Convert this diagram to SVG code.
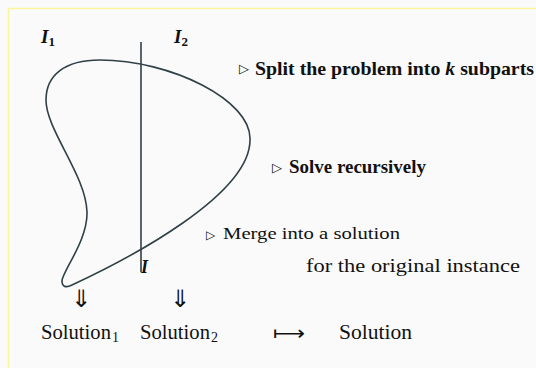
<svg xmlns="http://www.w3.org/2000/svg" width="536" height="368" viewBox="0 0 536 368">
<style>
.t{font-family:'Liberation Serif','Times New Roman',serif;fill:#111}
.b{font-weight:bold}
.bi{font-weight:bold;font-style:italic}
.sym{font-family:'DejaVu Sans',sans-serif;fill:#111}
.ln{fill:none;stroke:#2f4046;stroke-width:1.6}
</style>
<rect x="0" y="0" width="536" height="368" fill="#fafafa"/>
<path d="M8.5,368 V8.5 H536" fill="none" stroke="#fbf69c" stroke-width="1.5"/>
<g id="instance">
<path class="ln" d="M72,285 C130,258 250,195 250,140 C252,100 170,60 100,60 C65,60 46,75 46,100 C46,130 86,175 87,212 C88,240 62,272 62,281 C62,287 66,288 72,285 Z"/>
<line class="ln" x1="141" y1="42" x2="141" y2="272"/>
<text class="t bi" x="41" y="43" font-size="19">I<tspan font-size="13" dy="3" font-style="normal">1</tspan></text>
<text class="t bi" x="174" y="43" font-size="19">I<tspan font-size="13" dy="3" font-style="normal">2</tspan></text>
<text class="t bi" x="141" y="273" font-size="18">I</text>
</g>
<g id="split">
<text class="sym" x="239" y="73" font-size="13">▷</text>
<text class="t b" x="255" y="75" font-size="19" textLength="279" lengthAdjust="spacingAndGlyphs">Split the problem into <tspan font-style="italic">k</tspan> subparts</text>
</g>
<g id="solve">
<text class="sym" x="272" y="172" font-size="13">▷</text>
<text class="t b" x="289" y="173" font-size="19" textLength="137" lengthAdjust="spacingAndGlyphs">Solve recursively</text>
</g>
<g id="merge">
<text class="sym" x="206" y="239" font-size="12">▷</text>
<text class="t" x="223" y="239" font-size="17" textLength="177" lengthAdjust="spacingAndGlyphs">Merge into a solution</text>
<text class="t" x="306" y="272" font-size="19" textLength="214" lengthAdjust="spacingAndGlyphs">for the original instance</text>
</g>
<g id="connectors">
<text class="sym" x="81" y="307" font-size="24" text-anchor="middle">⇓</text>
<text class="sym" x="180" y="307" font-size="24" text-anchor="middle">⇓</text>
<text class="sym" x="273" y="340" font-size="20" textLength="32" lengthAdjust="spacingAndGlyphs">⟼</text>
</g>
<g id="solution1">
<text class="t" x="41" y="339" font-size="20" textLength="70" lengthAdjust="spacingAndGlyphs">Solution</text>
<text class="t" x="112" y="342" font-size="14">1</text>
</g>
<g id="solution2">
<text class="t" x="140" y="339" font-size="20" textLength="70" lengthAdjust="spacingAndGlyphs">Solution</text>
<text class="t" x="211" y="342" font-size="14">2</text>
</g>
<g id="solution">
<text class="t" x="339" y="339" font-size="20" textLength="73" lengthAdjust="spacingAndGlyphs">Solution</text>
</g>
</svg>
